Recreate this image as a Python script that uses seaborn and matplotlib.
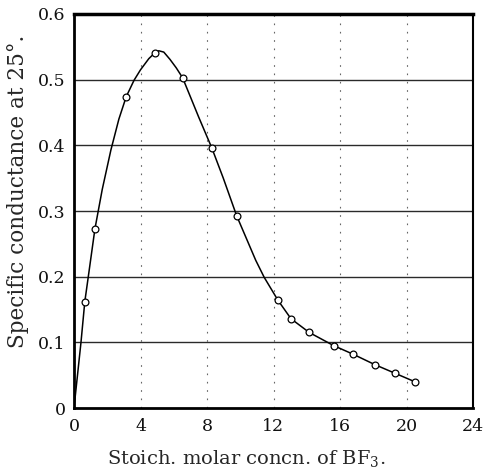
import matplotlib
matplotlib.use("Agg")
import matplotlib.pyplot as plt
import seaborn as sns
import pandas as pd

# measured points (open circles)
conc = [0.65, 1.26, 3.14, 4.87, 6.53, 8.29, 9.78, 12.27, 13.05, 14.15, 15.62, 16.78, 18.10, 19.30, 20.50]
cond = [0.162, 0.273, 0.474, 0.541, 0.503, 0.396, 0.293, 0.164, 0.136, 0.115, 0.095, 0.082, 0.066, 0.053, 0.040]

# smooth drawn curve
curve_x = [0.0, 0.42, 0.65, 0.86, 1.26, 1.70, 2.22, 2.70, 3.14, 3.61, 4.00, 4.50, 4.87, 5.10, 5.40, 5.77, 6.15, 6.53,
           7.00, 7.50, 8.29, 8.98, 9.78, 10.44, 10.93, 11.44, 12.27, 13.05, 14.15, 15.62, 16.78, 18.10, 19.30, 20.50]
curve_y = [0.0, 0.100, 0.162, 0.200, 0.273, 0.333, 0.393, 0.440, 0.474, 0.499, 0.515, 0.532, 0.541, 0.544, 0.542, 0.531, 0.518, 0.503,
           0.474, 0.443, 0.396, 0.350, 0.293, 0.254, 0.225, 0.199, 0.164, 0.136, 0.115, 0.095, 0.082, 0.066, 0.053, 0.040]

x_ticks = [0, 4, 8, 12, 16, 20, 24]
x_ticklabels = ["0", "4", "8", "12", "16", "20", "24"]
y_ticks = [0, 0.1, 0.2, 0.3, 0.4, 0.5, 0.6]
y_ticklabels = ["0", "0.1", "0.2", "0.3", "0.4", "0.5", "0.6"]

sns.set_style("white")
plt.rcParams['font.family'] = ['DejaVu Serif']
plt.rcParams['mathtext.fontset'] = 'dejavuserif'

fig = plt.figure(figsize=(4.91, 4.73), dpi=100)
ax = fig.add_axes([74/491, 1 - 408/473, (473-74)/491, (408-14)/473])

pts = pd.DataFrame({"x": conc, "y": cond})
crv = pd.DataFrame({"x": curve_x, "y": curve_y})

for yv in y_ticks[1:-1]:
    ax.axhline(yv, color="#2a2a2a", lw=1.0, zorder=1)
for xv in x_ticks[1:-1]:
    ax.axvline(xv, color="#666666", lw=0.8, ls=(0, (1.5, 6)), zorder=1)

sns.lineplot(data=crv, x="x", y="y", ax=ax, color="black", lw=1.1, sort=False, zorder=3)
sns.scatterplot(data=pts, x="x", y="y", ax=ax, s=24, facecolor="white",
                edgecolor="black", linewidth=0.9, zorder=4)

ax.set_xlim(0, 24)
ax.set_ylim(0, 0.6)
ax.set_xticks(x_ticks)
ax.set_xticklabels(x_ticklabels)
ax.set_yticks(y_ticks)
ax.set_yticklabels(y_ticklabels)
ax.tick_params(axis="both", length=0, labelsize=12.5, colors="#111111")
ax.tick_params(axis="x", pad=7)
ax.tick_params(axis="y", pad=6)
ax.set_xlabel(r"Stoich. molar concn. of BF$_3$.", fontsize=14, va="center")
ax.set_ylabel("Specific conductance at 25°.", fontsize=15.5, va="center")
ax.xaxis.set_label_coords(0.431, -0.127)
ax.yaxis.set_label_coords(-0.140, 0.551)

for side, w in [("top", 2.5), ("left", 2.0), ("bottom", 2.0), ("right", 1.5)]:
    ax.spines[side].set_visible(True)
    ax.spines[side].set_color("black")
    ax.spines[side].set_linewidth(w)

fig.savefig("out.png", dpi=100)
